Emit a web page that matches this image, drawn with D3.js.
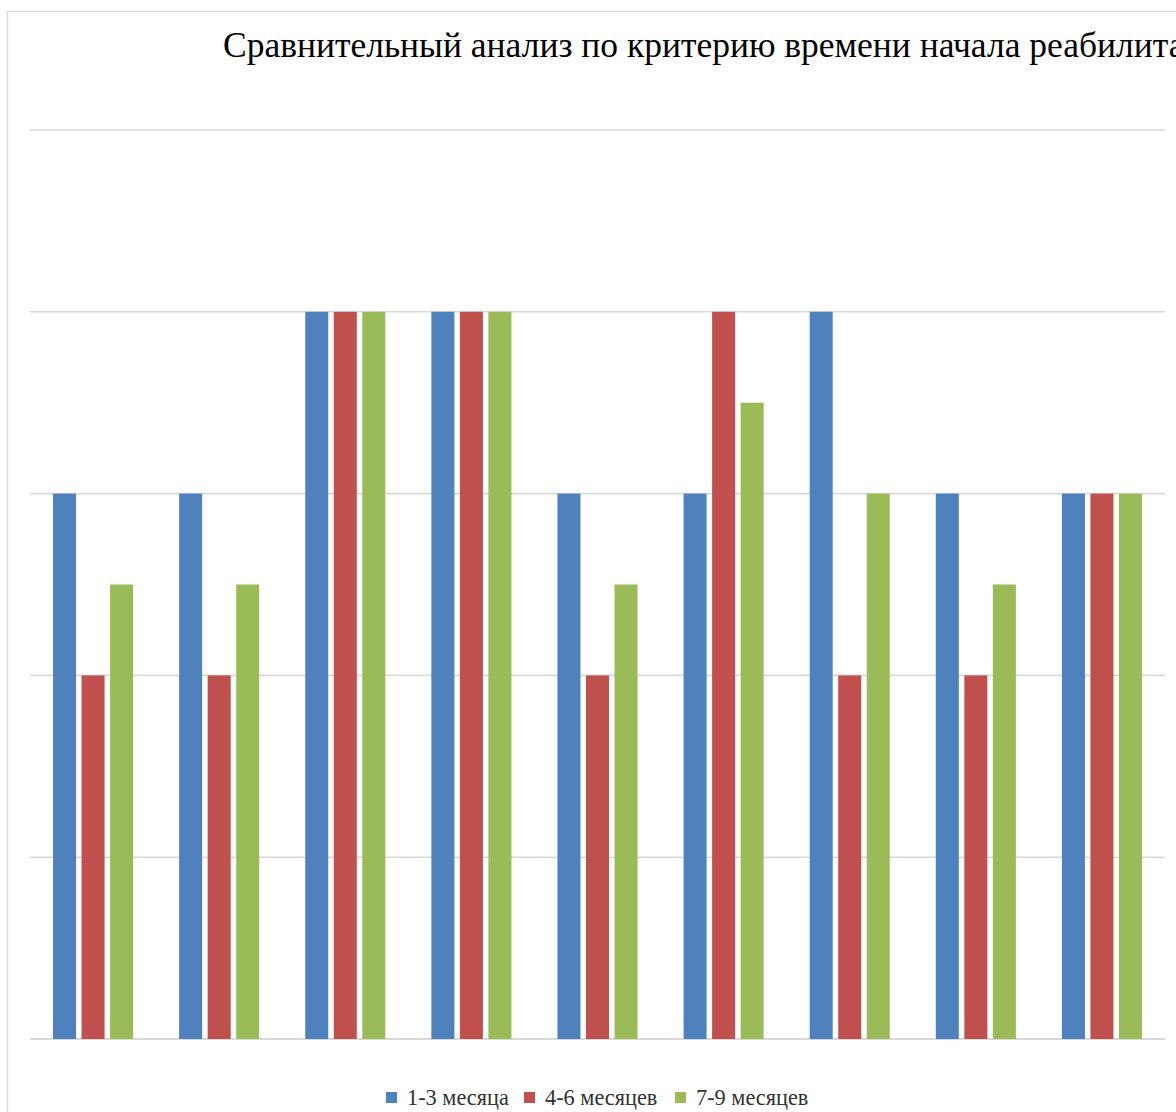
<!DOCTYPE html>
<html>
<head>
<meta charset="utf-8">
<script src="https://cdn.jsdelivr.net/npm/d3@7"></script>
<style>
  html, body { margin: 0; padding: 0; background: #fff; overflow: hidden; }
  svg { display: block; }
</style>
</head>
<body>
<svg id="chart" width="1176" height="1112"></svg>
<script>
const groups = ["1", "2", "3", "4", "5", "6", "7", "8", "9"]
const series = ["1-3 месяца", "4-6 месяцев", "7-9 месяцев"]
const months13 = [3, 3, 4, 4, 3, 3, 4, 3, 3]
const months46 = [2, 2, 4, 4, 2, 4, 2, 2, 3]
const months79 = [2.5, 2.5, 4, 4, 2.5, 3.5, 3, 2.5, 3]
const yTicks = [0, 1, 2, 3, 4, 5]
const colors = ["#4f81bd", "#c0504d", "#9bbb59"]
const title = "Сравнительный анализ по критерию времени начала реабилитации"

const values = [months13, months46, months79]
const rows = groups.map((g, i) => ({
  group: g,
  vals: series.map((s, j) => ({ key: s, value: values[j][i] }))
}))

const svg = d3.select("#chart")

// chart frame (runs past the visible area, as in the cropped original)
svg.append("rect")
  .attr("x", 7.5).attr("y", 11.5)
  .attr("width", 1300).attr("height", 1200)
  .attr("fill", "none")
  .attr("stroke", "#d9d9d9")
  .attr("stroke-width", 1.5)

const x0 = d3.scaleBand().domain(groups).range([30, 1165])
const x1 = d3.scaleBand().domain(series)
  .range([0, x0.bandwidth()])
  .paddingInner(0.193)
  .paddingOuter(0.807)
const y = d3.scaleLinear().domain([0, 5]).range([1039, 130])

// gridlines
svg.append("g")
  .selectAll("line")
  .data(yTicks)
  .join("line")
  .attr("x1", 30).attr("x2", 1165)
  .attr("y1", d => y(d)).attr("y2", d => y(d))
  .attr("stroke", "#d9d9d9")
  .attr("stroke-width", d => d === 0 ? 2.2 : 1.6)

// bars
svg.append("g")
  .selectAll("g")
  .data(rows)
  .join("g")
  .attr("transform", d => `translate(${x0(d.group)},0)`)
  .selectAll("rect")
  .data(d => d.vals)
  .join("rect")
  .attr("x", d => x1(d.key))
  .attr("y", d => y(d.value))
  .attr("width", x1.bandwidth())
  .attr("height", d => y(0) - y(d.value))
  .attr("fill", (d, i) => colors[i])

// title (cut off at the right edge, like the original)
svg.append("text")
  .attr("x", 223).attr("y", 57)
  .attr("font-family", "Liberation Serif, serif")
  .attr("font-size", 35.5)
  .attr("fill", "#000")
  .text(title)

// legend
const legendX = [386, 524, 675]
const legend = svg.append("g")
series.forEach((s, i) => {
  legend.append("rect")
    .attr("x", legendX[i]).attr("y", 1092)
    .attr("width", 11).attr("height", 11)
    .attr("fill", colors[i])
  legend.append("text")
    .attr("x", legendX[i] + 21).attr("y", 1105)
    .attr("font-family", "Liberation Serif, serif")
    .attr("font-size", 22.3)
    .attr("fill", "#333")
    .text(s)
})
</script>
</body>
</html>
